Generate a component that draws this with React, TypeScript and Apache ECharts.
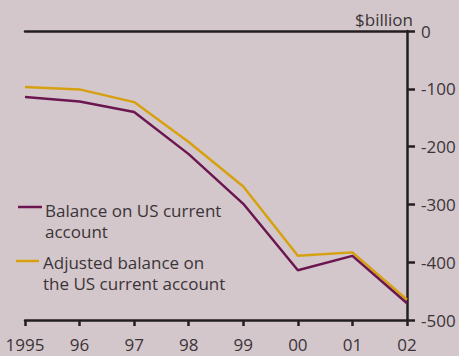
import React, { useEffect, useRef } from "react";
import * as echarts from "echarts";

const years = ["1995", "96", "97", "98", "99", "00", "01", "02"];
const balance = [-114, -122, -140, -213, -299, -414, -389, -471];
const adjusted = [-97, -101, -123, -192, -269, -389, -383, -465];
const yTicks = [0, -100, -200, -300, -400, -500];

const PURPLE = "#6c1650";
const GOLD = "#d7a00e";
const INK = "#231f20";
const TEXT = "#3b3437";
const BG = "#d3c7cc";
const FONT = "'Open Sans', Lato, sans-serif";
const FS = 17;

export default function App() {
  const ref = useRef<HTMLDivElement>(null);
  useEffect(() => {
    const chart = echarts.init(ref.current!, undefined, { renderer: "svg" });
    chart.setOption({
      animation: false,
      backgroundColor: BG,
      textStyle: { fontFamily: FONT },
      grid: { left: 25, right: 52, top: 31, bottom: 36 },
      xAxis: [
        {
          type: "category",
          data: years,
          boundaryGap: false,
          position: "bottom",
          axisLine: { onZero: false, lineStyle: { color: INK, width: 2.5 } },
          axisTick: { show: true, length: 6, lineStyle: { color: INK, width: 2.5 } },
          axisLabel: { color: TEXT, fontSize: FS, margin: 16, fontFamily: FONT },
        },
        {
          type: "category",
          data: years,
          boundaryGap: false,
          position: "top",
          axisLine: { onZero: false, lineStyle: { color: INK, width: 2.5 } },
          axisTick: { show: false },
          axisLabel: { show: false },
        },
      ],
      yAxis: {
        type: "value",
        position: "right",
        min: yTicks[yTicks.length - 1],
        max: yTicks[0],
        interval: 100,
        splitLine: { show: false },
        axisLine: { show: true, onZero: false, lineStyle: { color: INK, width: 2.5 } },
        axisTick: { show: true, length: 8, lineStyle: { color: INK, width: 2.5 } },
        axisLabel: { color: TEXT, fontSize: FS, margin: 14, fontFamily: FONT },
      },
      series: [
        {
          name: "Balance on US current account",
          type: "line",
          data: balance,
          symbol: "none",
          lineStyle: { color: PURPLE, width: 2.5 },
          itemStyle: { color: PURPLE },
          z: 3,
        },
        {
          name: "Adjusted balance on the US current account",
          type: "line",
          data: adjusted,
          symbol: "none",
          lineStyle: { color: GOLD, width: 2.5 },
          itemStyle: { color: GOLD },
          z: 2,
        },
      ],
      graphic: [
        {
          type: "text",
          x: 413,
          y: 19,
          style: {
            text: "$billion",
            fill: TEXT,
            font: `${FS}px ${FONT}`,
            textAlign: "right",
            textVerticalAlign: "middle",
          },
        },
        {
          type: "line",
          shape: { x1: 18, y1: 207, x2: 42, y2: 207 },
          style: { stroke: PURPLE, lineWidth: 2.5 },
        },
        {
          type: "text",
          x: 45,
          y: 210,
          style: {
            text: "Balance on US current",
            fill: TEXT,
            font: `${FS}px ${FONT}`,
            textVerticalAlign: "middle",
          },
        },
        {
          type: "text",
          x: 45,
          y: 231,
          style: {
            text: "account",
            fill: TEXT,
            font: `${FS}px ${FONT}`,
            textVerticalAlign: "middle",
          },
        },
        {
          type: "line",
          shape: { x1: 16, y1: 261, x2: 39, y2: 261 },
          style: { stroke: GOLD, lineWidth: 2.5 },
        },
        {
          type: "text",
          x: 43,
          y: 262.5,
          style: {
            text: "Adjusted balance on",
            fill: TEXT,
            font: `${FS}px ${FONT}`,
            textVerticalAlign: "middle",
          },
        },
        {
          type: "text",
          x: 43,
          y: 283.5,
          style: {
            text: "the US current account",
            fill: TEXT,
            font: `${FS}px ${FONT}`,
            textVerticalAlign: "middle",
          },
        },
      ],
    });
    return () => chart.dispose();
  }, []);
  return (
    <div
      ref={ref}
      style={{ position: "fixed", left: 0, top: 0, width: 459, height: 356 }}
    />
  );
}
